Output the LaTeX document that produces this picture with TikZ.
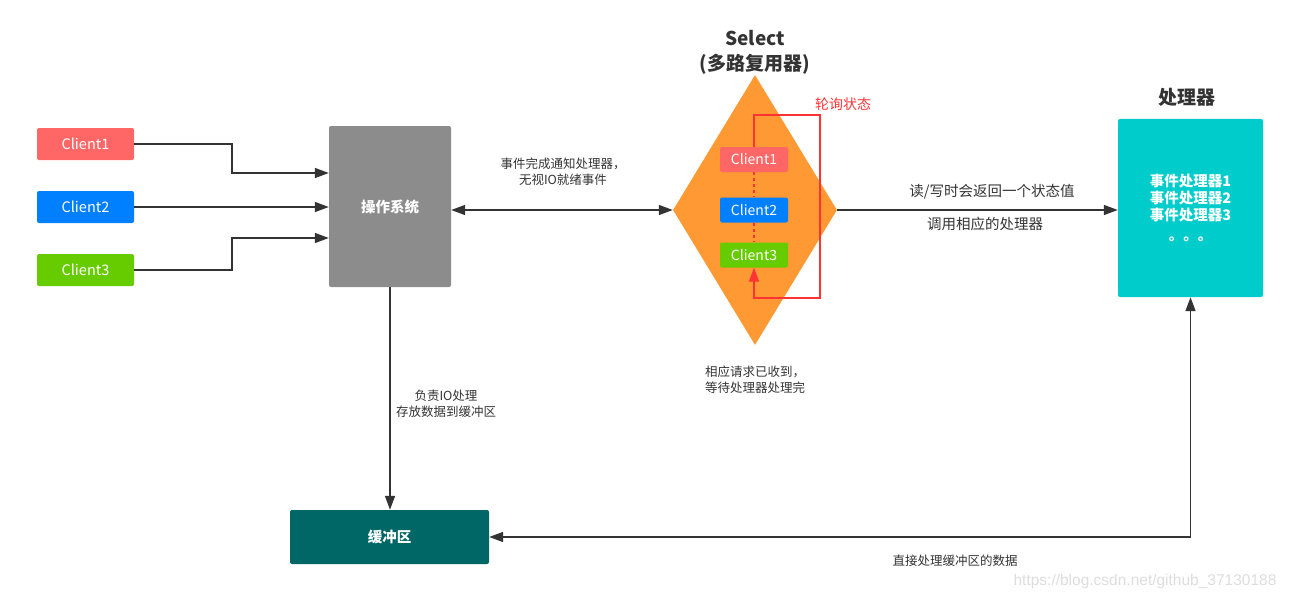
\documentclass[tikz,border=0pt]{standalone}
\usepackage{fontspec}
\setmainfont{Noto Sans CJK SC}
\newfontfamily\wmfont{Liberation Sans}
\usetikzlibrary{shapes.geometric,arrows.meta}
\definecolor{cA}{HTML}{FF6666}
\definecolor{cB}{HTML}{007FFF}
\definecolor{cC}{HTML}{66CC00}
\definecolor{osc}{HTML}{8C8C8C}
\definecolor{orng}{HTML}{FF9933}
\definecolor{procc}{HTML}{00CCCC}
\definecolor{bufc}{HTML}{006666}
\definecolor{linec}{HTML}{333333}
\definecolor{redl}{HTML}{FF3333}
\definecolor{txt}{HTML}{333333}
\definecolor{wm}{HTML}{DDDDDD}
\tikzset{
  box/.style={rounded corners=2pt, inner sep=0pt, text=white, align=center},
  cbox/.style={box, minimum width=97pt, minimum height=32pt, font=\fontsize{14.5}{16}\selectfont},
  ibox/.style={box, minimum width=68pt, minimum height=25pt, font=\fontsize{14}{15}\selectfont},
  lbl/.style={font=\fontsize{12.5}{16}\selectfont, text=txt, align=center, inner sep=0pt},
  lblb/.style={font=\fontsize{14.5}{17}\selectfont, text=txt, align=center, inner sep=0pt},
  ttl/.style={font=\fontsize{19}{25}\selectfont\bfseries, text=txt, align=center, inner sep=0pt},
  conn/.style={draw=linec, line width=1.6pt, -{Triangle[length=14pt,width=10pt]}},
  conn2/.style={draw=linec, line width=1.6pt, {Triangle[length=14pt,width=10pt]}-{Triangle[length=14pt,width=10pt]}},
  loop/.style={draw=redl, line width=1.5pt, -{Triangle[length=14pt,width=10pt]}},
  dotl/.style={draw=redl, line width=1.5pt, dash pattern=on 3pt off 3pt},
}
\begin{document}
\begin{tikzpicture}[x=1pt,y=-1pt]
\useasboundingbox (0,0) rectangle (1289,599);
% clients
\node[cbox, fill=cA] (c1) at (85.5,144) {Client1};
\node[cbox, fill=cB] (c2) at (85.5,207) {Client2};
\node[cbox, fill=cC] (c3) at (85.5,270) {Client3};
% OS
\node[box, fill=osc, minimum width=122pt, minimum height=161pt, font=\fontsize{14.5}{16}\selectfont\bfseries] (os) at (390,206.5) {操作系统};
% select diamond
\node[diamond, fill=orng, draw=none, minimum width=164pt, minimum height=270pt, inner sep=0pt, aspect=0.607] (sel) at (755,210) {};
\node[ttl] (selt) at (755,52.5) {Select\\(多路复用器)};
% inner clients
\node[ibox, fill=cA] (ic1) at (754,159.5) {Client1};
\node[ibox, fill=cB] (ic2) at (754,210) {Client2};
\node[ibox, fill=cC] (ic3) at (754,255) {Client3};
% processor
\node[box, fill=procc, minimum width=145pt, minimum height=178pt, font=\fontsize{14.5}{17}\selectfont\bfseries] (proc) at (1190.5,208) {事件处理器1\\事件处理器2\\事件处理器3\\[3pt]。。。};
\node[ttl] (proct) at (1187,97) {处理器};
% buffer
\node[box, fill=bufc, minimum width=199pt, minimum height=54pt, font=\fontsize{14.5}{16}\selectfont\bfseries] (buf) at (389.5,537) {缓冲区};

% client -> OS
\coordinate (k1) at (232,173);
\coordinate (k3) at (232,238);
\draw[conn] (c1.east) -| (k1) -- (os.west |- k1);
\draw[conn] (c2.east) -- (os.west |- c2.east);
\draw[conn] (c3.east) -| (k3) -- (os.west |- k3);
% OS <-> select
\draw[conn2] (os.east |- sel.west) -- (sel.west);
% select -> processor
\draw[conn] (sel.east) -- (proc.west |- sel.east);
% OS -> buffer
\draw[conn] (os.south) -- (os.south |- buf.north);
% processor <-> buffer
\draw[conn2] (proc.south) |- (buf.east);

% polling loop
\coordinate (lt) at (820,115);
\coordinate (lb) at (820,298);
\draw[loop] (ic1.north) |- (lt) -- (lb) -| (ic3.south);
\draw[dotl] (ic1.south) -- (ic2.north);
\draw[dotl] (ic2.south) -- (ic3.north);
\node[font=\fontsize{14}{16}\selectfont, text=redl, inner sep=0pt] (poll) at (843,104) {轮询状态};

% labels
\node[lbl] (l1) at (563,172) {事件完成通知处理器，\\无视IO就绪事件};
\node[lbl] (l2) at (755,380) {相应请求已收到，\\等待处理器处理完};
\node[lbl] (l3) at (446,404) {负责IO处理\\存放数据到缓冲区};
\node[lblb] (l4) at (992,192) {读/写时会返回一个状态值};
\node[lblb] (l5) at (985,224) {调用相应的处理器};
\node[lbl] (l6) at (955,561) {直接处理缓冲区的数据};
\node[font=\wmfont\fontsize{15.5}{17}\selectfont, text=wm, inner sep=0pt] (wmk) at (1145,581) {https://blog.csdn.net/github\_37130188};
\end{tikzpicture}
\end{document}
